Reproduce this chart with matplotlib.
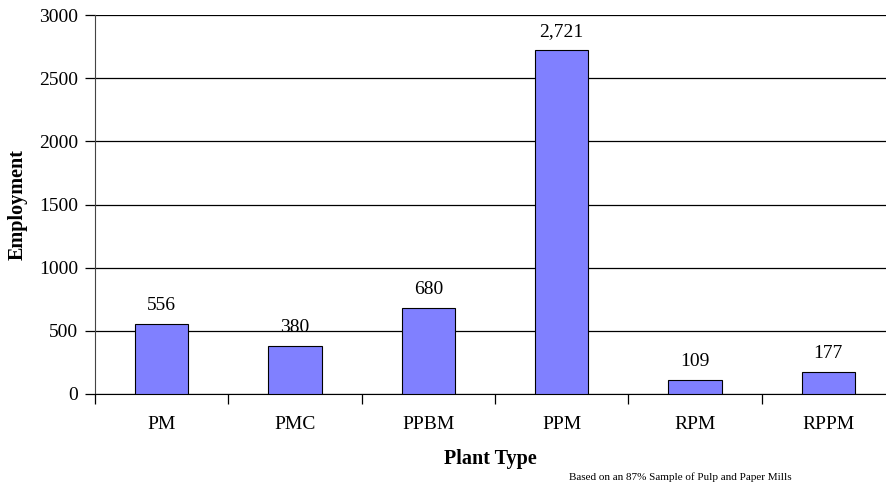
import numpy as np
import matplotlib.pyplot as plt

# Employment by plant type
plant_types = ['PM', 'PMC', 'PPBM', 'PPM', 'RPM', 'RPPM']
employment = [556, 380, 680, 2721, 109, 177]

plt.rcParams['font.family'] = ['Liberation Serif', 'DejaVu Serif']

fig = plt.figure(figsize=(8.86, 4.87), dpi=100)
# plot area runs slightly past the right edge of the figure
ax = fig.add_axes([95 / 886, 1 - 394 / 487, 800 / 886, 379 / 487])

x = np.arange(len(plant_types))
bars = ax.bar(x, employment, width=0.4, color='#8080FF', edgecolor='black',
              linewidth=0.8, zorder=3)

for xi, v in zip(x, employment):
    ax.text(xi, v + 80, f'{v:,}', ha='center', va='bottom', fontsize=14)

ax.set_xlim(-0.5, len(plant_types) - 0.5)
ax.set_ylim(0, 3000)
ax.set_yticks(np.arange(0, 3001, 500))
ax.yaxis.grid(True, color='black', linewidth=0.9, zorder=0)

# boundary ticks between categories, labels at the centres
ax.set_xticks(np.arange(-0.5, len(plant_types) + 0.5, 1))
ax.set_xticklabels([])
ax.set_xticks(x, minor=True)
ax.set_xticklabels(plant_types, minor=True, fontsize=14)
ax.tick_params(axis='x', which='major', length=7, width=0.9, direction='out')
ax.tick_params(axis='x', which='minor', length=0, pad=16)
ax.tick_params(axis='y', length=7, width=0.9, pad=5, labelsize=14)

for side in ['top', 'right']:
    ax.spines[side].set_visible(False)
ax.spines['left'].set_color('#444444')
ax.spines['bottom'].set_color('black')

fig.text(18 / 886, 1 - 205 / 487, 'Employment', rotation=90, ha='center',
         va='center', fontsize=14.5, fontweight='bold')
fig.text(490 / 886, 1 - 459 / 487, 'Plant Type', ha='center', va='center',
         fontsize=14.5, fontweight='bold')
fig.text(680 / 886, 1 - 477 / 487, 'Based on an 87% Sample of Pulp and Paper Mills',
         ha='center', va='center', fontsize=8)

fig.savefig('out.png', dpi=100)
